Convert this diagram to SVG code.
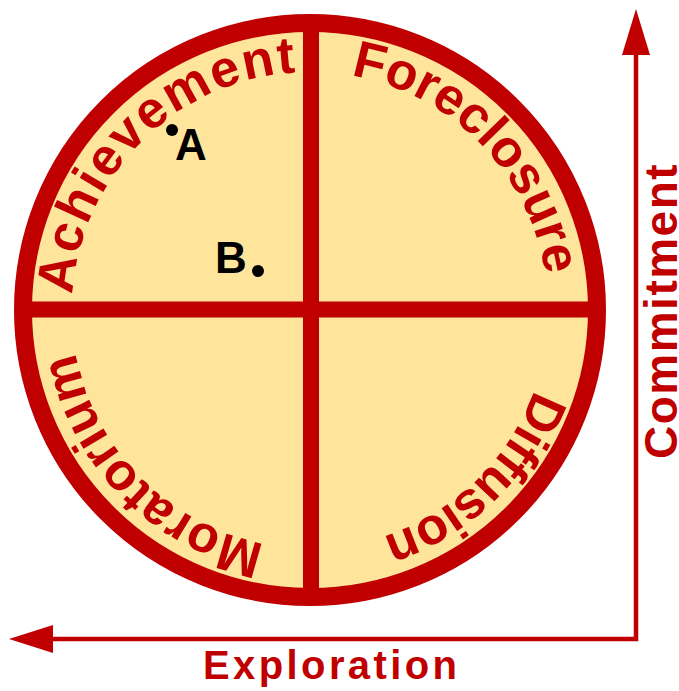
<svg xmlns="http://www.w3.org/2000/svg" width="679" height="691" viewBox="0 0 679 691">
  <style>
    .ring { font-family: "Liberation Sans", Arial, sans-serif; font-weight: bold; font-size: 52px; fill: #C00000; }
    .axis-label { font-family: "Liberation Sans", Arial, sans-serif; font-weight: bold; fill: #C00000; }
    .pt-label { font-family: "Liberation Sans", Arial, sans-serif; font-weight: bold; font-size: 44px; fill: #000000; }
    .red { stroke: #C00000; fill: none; }
  </style>
  <defs>
    <path id="ringPath" d="M 548,310 A 238 238 0 1 1 72,310 A 238 238 0 1 1 548,310"/>
  </defs>
  <rect width="679" height="691" fill="#FFFFFF"/>

  <g id="identity-circle">
    <circle cx="310" cy="310" r="287" fill="#FFE49C"/>
    <line class="red" x1="311" y1="20" x2="311" y2="600" stroke-width="16"/>
    <line class="red" x1="20" y1="309.5" x2="600" y2="309.5" stroke-width="16"/>
    <circle class="red" cx="310" cy="310" r="287" stroke-width="18"/>
  </g>

  <g id="achievement">
    <text class="ring" letter-spacing="2"><textPath href="#ringPath" startOffset="763">Achievement</textPath></text>
  </g>
  <g id="foreclosure">
    <text class="ring" letter-spacing="0"><textPath href="#ringPath" startOffset="1162">Foreclosure</textPath></text>
  </g>
  <g id="diffusion">
    <text class="ring" letter-spacing="-0.8"><textPath href="#ringPath" startOffset="81">Diffusion</textPath></text>
  </g>
  <g id="moratorium">
    <text class="ring" letter-spacing="0"><textPath href="#ringPath" startOffset="419">Moratorium</textPath></text>
  </g>

  <g id="point-a">
    <circle cx="172" cy="130" r="6" fill="#000000"/>
    <text class="pt-label" x="175" y="160">A</text>
  </g>
  <g id="point-b">
    <text class="pt-label" x="215" y="273">B</text>
    <circle cx="258" cy="271" r="6" fill="#000000"/>
  </g>

  <g id="connectors">
    <polyline class="red" points="636,50 636,639 48,639" stroke-width="4.5"/>
    <polygon points="636,9 622,55 650,55" fill="#C00000"/>
    <polygon points="9,639 53,625 53,653" fill="#C00000"/>
  </g>

  <g id="commitment-label">
    <text class="axis-label" font-size="46" letter-spacing="1.5" transform="translate(677,459) rotate(-90)">Commitment</text>
  </g>
  <g id="exploration-label">
    <text class="axis-label" font-size="40" letter-spacing="3.4" x="203" y="679">Exploration</text>
  </g>
</svg>
